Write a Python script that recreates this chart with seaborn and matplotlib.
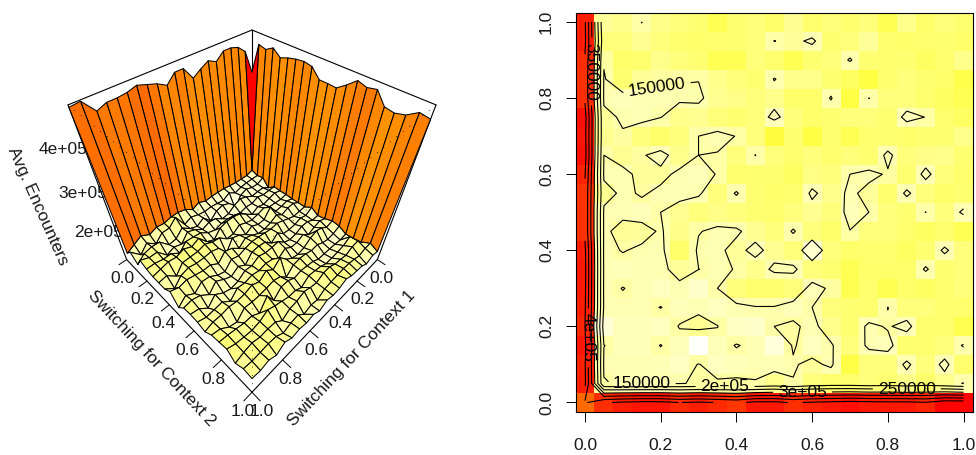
import numpy as np
import pandas as pd
import matplotlib
matplotlib.use('Agg')
import matplotlib.pyplot as plt
import seaborn as sns
from matplotlib.colors import LinearSegmentedColormap
from mpl_toolkits.mplot3d import proj3d

# switching rates on both axes
switch_vals = [round(i * 0.05, 2) for i in range(21)]
tick_vals = [0.0, 0.2, 0.4, 0.6, 0.8, 1.0]
z_tick_labels = ['4e+05', '3e+05', '2e+05']

# average encounters in thousands, first row is y=1.0, last row is y=0.0
encounters = [
    [456, 155, 160, 149.6, 162, 165, 168, 178, 168, 165, 172, 158, 170, 165, 170, 165, 178, 160, 172, 165, 168],
    [459, 165, 165, 158, 165, 170, 172, 170, 168, 165, 149.6, 155, 146, 168, 165, 155, 170, 172, 170, 168, 172],
    [446, 152, 172, 170, 160, 165, 168, 178, 178, 165, 170, 178, 168, 165, 148, 168, 170, 168, 175, 170, 160],
    [441, 148, 169, 157, 153, 151, 150.5, 160, 165, 168, 149, 160, 160, 168, 175, 185, 170, 165, 168, 172, 182],
    [444, 146, 142, 145, 146, 147, 147, 158, 162, 165, 160, 172, 172, 148, 185, 149.6, 165, 165, 170, 175, 178],
    [467, 156, 147, 144, 149.5, 160, 158, 165, 168, 165, 143, 165, 172, 168, 165, 165, 168, 143, 150.5, 170, 175],
    [463, 158, 152, 165, 172, 165, 150, 145, 150.5, 165, 188, 168, 185, 168, 178, 170, 168, 172, 168, 168, 160],
    [468, 150, 158, 152, 143, 160, 150, 151, 165, 149.6, 165, 170, 165, 170, 165, 168, 145, 165, 162, 160, 168],
    [453, 146, 145, 155, 155, 146, 143, 151, 170, 168, 168, 175, 163, 165, 150, 145, 152, 168, 144, 165, 170],
    [440, 158, 146, 152, 146, 144, 147, 165, 148, 168, 172, 170, 146, 160, 146, 156, 170, 146, 165, 172, 168],
    [441, 146, 145, 143, 150, 158, 165, 162, 165, 168, 170, 165, 158, 165, 143, 150, 165, 168, 149.7, 165, 146],
    [441, 146, 157, 156, 148, 162, 151, 146, 147, 158, 165, 148, 165, 172, 150.5, 165, 165, 170, 175, 170, 178],
    [459, 145, 151, 147, 145, 172, 147, 146, 156, 144, 158, 165, 132, 165, 172, 170, 170, 175, 168, 146, 165],
    [462, 146, 143, 145, 146, 156, 150.2, 146, 151, 160, 146, 146, 165, 168, 178, 172, 172, 172, 147, 168, 165],
    [460, 145, 150.5, 146, 140, 146, 135, 150, 165, 170, 170, 165, 143, 153, 180, 170, 180, 172, 175, 170, 165],
    [456, 146, 146, 145, 150.5, 143, 145, 140, 146, 149, 149, 143, 150, 165, 168, 170, 149.7, 165, 165, 170, 170],
    [450, 130, 142, 142, 140, 151, 158, 150.5, 137, 135, 150, 153, 145, 160, 168, 145, 152, 143, 170, 170, 180],
    [463, 150.5, 142, 143, 150.5, 143, 112, 143, 151, 146, 128, 152, 140, 148, 165, 146, 143, 168, 170, 165, 148],
    [454, 146, 146, 146, 144, 138, 151, 140, 143, 146, 144, 148, 155, 146, 183, 165, 165, 146, 165, 144, 170],
    [458, 152, 146, 146, 147, 149, 152, 153, 153, 151, 160, 151, 165, 170, 170, 165, 168, 160, 172, 160, 149],
    [394, 444, 458, 463, 463, 449, 457, 448, 437, 462, 462, 445, 455, 461, 467, 462, 460, 460, 453, 478, 476],
]
contour_levels = [150, 200, 250, 300, 350, 400, 450]
contour_names = {150: '150000', 200: '2e+05', 250: '250000', 300: '3e+05', 350: '350000', 400: '4e+05'}

sns.set_style('white')
plt.rcParams['font.family'] = ['Liberation Sans', 'DejaVu Sans']
plt.rcParams['font.size'] = 12.5
plt.rcParams['text.color'] = '#1a1a1a'
plt.rcParams['xtick.labelcolor'] = '#1a1a1a'
plt.rcParams['ytick.labelcolor'] = '#1a1a1a'

Z = np.array(encounters, dtype=float)
vmin, vmax = 110, 480

# reversed heat colours, bent so the walls and the corner cell come out right
stops = [(110, '#FFFFFF'), (150, '#FFFFA8'), (185, '#FFFF40'), (240, '#FFC400'),
         (285, '#FF9C00'), (300, '#FF8C00'), (310, '#FF7E00'), (318, '#FF6A00'), (394, '#FF6A00'),
         (450, '#FF2800'), (480, '#FF0000')]
heat = LinearSegmentedColormap.from_list(
    'heat_rev', [((v - vmin) / (vmax - vmin), c) for v, c in stops])

fig = plt.figure(figsize=(9.76, 4.55), dpi=100)


def fx(px):
    return px / 976


def fy(py):
    return 1 - py / 455


def set_camera(ax, focal):
    # mplot3d moves the eye with the focal length, so the box is scaled along
    # to keep the R persp ratio of eye distance to half box (r + d = 3.73)
    ax.set_proj_type('persp', focal_length=focal)
    ax.set_box_aspect((1, 1, 1), zoom=10 * focal / (3.73 * 0.5501))


# left panel, R persp look: theta 135, phi 45
ax3 = fig.add_axes([fx(32), fy(448), 440 / 976, 440 / 455], projection='3d')
ax3.set_axis_off()
ax3.patch.set_visible(False)
ax3.computed_zorder = False
ax3.view_init(elev=45, azim=45)
ax3.set_xlim(0, 1, view_margin=0)
ax3.set_ylim(0, 1, view_margin=0)
ax3.set_zlim(vmin, vmax, view_margin=0)
focal = 0.165
set_camera(ax3, focal)

grid = np.array(switch_vals)
X3, Y3 = np.meshgrid(grid, grid)
Z3 = Z[::-1]  # row 0 is y=0 here
facet_vals = (Z3[:-1, :-1] + Z3[1:, :-1] + Z3[:-1, 1:] + Z3[1:, 1:]) / 4
# the floor of the surface is paler than the same values in the image plot
facet_vals = np.where(facet_vals < 200, facet_vals - 10, facet_vals)
facets = heat((facet_vals - vmin) / (vmax - vmin))
facets[0, 0] = (1, 0, 0, 1)  # the corner facet is pure red in the original

surf = ax3.plot_surface(X3, Y3, Z3, rstride=1, cstride=1, facecolors=facets,
                        shade=False, zorder=2)
surf.set_edgecolor('black')
surf.set_linewidth(0.75)

# box: back edges first, under the surface
back_edges = [
    ([1, 0], [0, 0], [vmax, vmax]), ([0, 0], [0, 1], [vmax, vmax]),
    ([0, 0], [0, 0], [vmin, vmax]), ([1, 1], [0, 0], [vmin, vmax]),
    ([0, 0], [1, 1], [vmin, vmax]),
]
for xs, ys, zs in back_edges:
    ax3.plot(xs, ys, zs, color='black', lw=0.8, zorder=1)

# front edges dotted, very sparse like the original
for xs, ys, zs in [([1, 1], [0, 1], [vmax, vmax]), ([0, 1], [1, 1], [vmax, vmax]),
                   ([1, 1], [1, 1], [vmin, vmax])]:
    ax3.plot(xs, ys, zs, color='black', lw=0.6, ls=(0, (1, 9)), zorder=4)

# axes along the front of the floor
ax3.plot([1, 1], [0, 1], [vmin, vmin], color='black', lw=0.8, zorder=3)
ax3.plot([0, 1], [1, 1], [vmin, vmin], color='black', lw=0.8, zorder=3)
for t in tick_vals:
    ax3.plot([t, t], [1, 1.05], [vmin, vmin], color='black', lw=0.7, zorder=3)
    ax3.plot([1, 1.05], [t, t], [vmin, vmin], color='black', lw=0.7, zorder=3)
    ax3.text(t, 1.06, vmin - 45, f'{t:.1f}', ha='center', va='center', zorder=3)
    ax3.text(1.06, t, vmin - 45, f'{t:.1f}', ha='center', va='center', zorder=3)

ax3.text2D(fx(352), fy(358), 'Switching for Context 1', rotation=47, ha='center', va='center',
           rotation_mode='anchor', transform=fig.transFigure, zorder=3)
ax3.text2D(fx(152), fy(358), 'Switching for Context 2', rotation=-47, ha='center', va='center',
           rotation_mode='anchor', transform=fig.transFigure, zorder=3)
ax3.text2D(fx(38), fy(206), 'Avg. Encounters', rotation=-66, ha='center', va='center',
           rotation_mode='anchor', transform=fig.transFigure, zorder=3)
# z labels go under the walls, the walls cut them off
for lab, px, py in zip(z_tick_labels, [39, 58, 74], [150, 194, 233]):
    ax3.text2D(fx(px), fy(py), lab, ha='left', va='center', transform=fig.transFigure, zorder=0.5)


def corner_px(x, y, z):
    xs, ys, _ = proj3d.proj_transform(x, y, z, ax3.get_proj())
    return ax3.transData.transform((xs, ys))


# fit scale and place of the projection to the reference box
fig.canvas.draw()
left = corner_px(1, 0, vmax)
right = corner_px(0, 1, vmax)
focal = focal * (436 - 68) / (right[0] - left[0])
set_camera(ax3, focal)
apex = corner_px(0, 0, vmax)
left = corner_px(1, 0, vmax)
right = corner_px(0, 1, vmax)
dx = 252 - (left[0] + right[0]) / 2
dy = (455 - 30) - apex[1]
pos = ax3.get_position()
ax3.set_position([pos.x0 + dx / 976, pos.y0 + dy / 455, pos.width, pos.height])

# right panel
ax2 = fig.add_axes([fx(575.5), fy(412), (973 - 575.5) / 976, (412 - 12.5) / 455])
table = pd.DataFrame(Z, index=switch_vals[::-1], columns=switch_vals)
sns.heatmap(table, ax=ax2, cmap=heat, vmin=vmin, vmax=vmax, cbar=False,
            xticklabels=False, yticklabels=False)
centers = np.arange(21) + 0.5


def cell(x, y):
    return (x / 0.05 + 0.5, (1 - y) / 0.05 + 0.5)


# one contour set per level, labels are placed by hand like in the original
label_spots = {
    150: [((0.19, 0.83), 8), ((0.15, 0.048), 0)],
    200: [((0.37, 0.04), 0)],
    250: [((0.85, 0.033), 0)],
    300: [((0.575, 0.02), 0)],
    350: [((0.02, 0.87), 270)],
    400: [((0.015, 0.17), 270)],
    450: [],
}
for level in contour_levels:
    cs = ax2.contour(centers, centers, Z, levels=[level], colors='black', linewidths=0.8)
    for spot, rot in label_spots[level]:
        n_before = len(cs.labelTexts)
        ax2.clabel(cs, fmt=contour_names, manual=[cell(*spot)], fontsize=12.5, inline=True)
        for txt in cs.labelTexts[n_before:]:
            txt.set_rotation(rot)

tick_pos = [t / 0.05 + 0.5 for t in tick_vals]
ax2.set_xticks(tick_pos)
ax2.set_xticklabels([f'{t:.1f}' for t in tick_vals], rotation=0)
ax2.set_yticks([(1 - t) / 0.05 + 0.5 for t in tick_vals])
ax2.set_yticklabels([f'{t:.1f}' for t in tick_vals], rotation=90, va='center')
ax2.tick_params(axis='x', bottom=True, length=7.5, width=0.7, pad=11, labelsize=12.5, color='black')
ax2.tick_params(axis='y', left=True, length=7.5, width=0.7, pad=8, labelsize=12.5, color='black')
ax2.set_xlabel('')
ax2.set_ylabel('')
for side in ax2.spines.values():
    side.set_visible(True)
    side.set_color('black')
    side.set_linewidth(0.8)

plt.savefig('out.png', dpi=100)
